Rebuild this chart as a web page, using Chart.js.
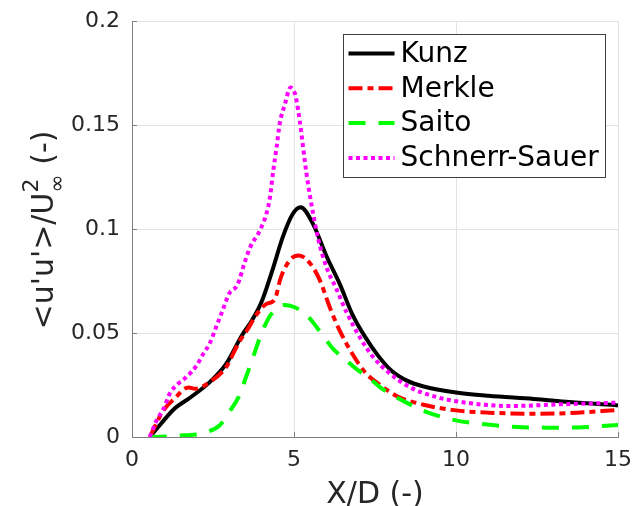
<!DOCTYPE html>
<html>
<head>
<meta charset="utf-8">
<script src="https://cdn.jsdelivr.net/npm/chart.js@4/dist/chart.umd.min.js"></script>
<style>
  html, body { margin: 0; padding: 0; background: #fff; }
  canvas { display: block; }
</style>
</head>
<body>
<canvas id="chart" width="634" height="506"></canvas>
<script>
// values (X/D vs <u'u'>/U^2)
const kunzX = [0.55, 0.9, 1.3, 1.8, 2.4, 2.9, 3.4, 3.7, 4.0, 4.35, 4.65, 4.95, 5.2, 5.6, 6.0, 6.4, 6.8, 7.2, 7.6, 8.0, 8.5, 9.0, 10.0, 11.0, 12.4, 13.5, 15.0];
const kunzY = [0, 0.0065, 0.0135, 0.019, 0.0264, 0.035, 0.049, 0.056, 0.065, 0.081, 0.096, 0.107, 0.1105, 0.102, 0.087, 0.074, 0.059, 0.048, 0.039, 0.032, 0.027, 0.0243, 0.0214, 0.0198, 0.0183, 0.0168, 0.0152];

const merkleX = [0.55, 0.97, 1.38, 1.6, 1.75, 1.95, 2.4, 2.9, 3.3, 3.55, 3.85, 4.15, 4.4, 4.6, 4.9, 5.15, 5.5, 5.8, 6.1, 6.4, 6.8, 7.2, 7.7, 8.2, 9.0, 10.0, 11.0, 12.4, 13.5, 15.0];
const merkleY = [0, 0.0128, 0.0195, 0.023, 0.0238, 0.0232, 0.0264, 0.0335, 0.0455, 0.0513, 0.059, 0.064, 0.066, 0.077, 0.0855, 0.0873, 0.0834, 0.0753, 0.0625, 0.0515, 0.040, 0.031, 0.0245, 0.0195, 0.0155, 0.0128, 0.0117, 0.0112, 0.0115, 0.013];

const saitoX = [0.55, 1.0, 1.6, 2.0, 2.3, 2.7, 3.0, 3.3, 3.5, 3.75, 4.0, 4.25, 4.5, 4.7, 5.0, 5.4, 5.7, 6.0, 6.2, 6.6, 6.9, 7.4, 7.65, 8.15, 8.5, 9.1, 10.0, 10.9, 11.9, 12.9, 13.9, 15.0];
const saitoY = [0, 0.0002, 0.0008, 0.0012, 0.0024, 0.0055, 0.012, 0.0195, 0.028, 0.039, 0.050, 0.058, 0.062, 0.0635, 0.0625, 0.0585, 0.0528, 0.0465, 0.0425, 0.037, 0.033, 0.0273, 0.024, 0.0192, 0.0163, 0.012, 0.008, 0.0061, 0.0048, 0.0045, 0.0047, 0.0058];

const schnerrX = [0.55, 0.76, 0.97, 1.17, 1.38, 1.69, 2.0, 2.2, 2.4, 2.6, 2.8, 3.0, 3.25, 3.5, 3.65, 3.95, 4.15, 4.26, 4.36, 4.46, 4.56, 4.72, 4.89, 5.03, 5.13, 5.23, 5.33, 5.44, 5.59, 5.75, 6.0, 6.3, 6.62, 7.03, 7.44, 7.96, 8.57, 9.4, 10.4, 11.7, 13.2, 15.0];
const schnerrY = [0, 0.008, 0.0135, 0.021, 0.025, 0.029, 0.0345, 0.040, 0.045, 0.053, 0.061, 0.069, 0.073, 0.085, 0.0913, 0.0994, 0.1074, 0.1154, 0.128, 0.139, 0.1507, 0.160, 0.168, 0.165, 0.157, 0.1458, 0.133, 0.121, 0.1074, 0.095, 0.0817, 0.0715, 0.060, 0.048, 0.0385, 0.0305, 0.024, 0.0192, 0.0163, 0.0149, 0.0157, 0.0165];

const seriesNames = ['Kunz', 'Merkle', 'Saito', 'Schnerr-Sauer'];
const xTicks = [0, 5, 10, 15];
const yTicks = [0, 0.05, 0.1, 0.15, 0.2];

const FONT = "'DejaVu Sans', 'Liberation Sans', sans-serif";
const TEXT = '#262626';
const AXIS = '#808080';
const GRID = '#e3e3e3';

function toPoints(xs, ys) {
    return xs.map((x, i) => ({ x: x, y: ys[i] }));
}

const datasets = [
    { label: seriesNames[0], data: toPoints(kunzX, kunzY), borderColor: '#000000', borderWidth: 4, borderDash: [], order: 4 },
    { label: seriesNames[1], data: toPoints(merkleX, merkleY), borderColor: '#ff0000', borderWidth: 4, borderDash: [14, 5, 6, 5], order: 3 },
    { label: seriesNames[2], data: toPoints(saitoX, saitoY), borderColor: '#00ff00', borderWidth: 4, borderDash: [17, 13], order: 2 },
    { label: seriesNames[3], data: toPoints(schnerrX, schnerrY), borderColor: '#ff00ff', borderWidth: 4, borderDash: [4, 3.5], order: 1 }
].map(d => Object.assign(d, {
    pointRadius: 0,
    fill: false,
    cubicInterpolationMode: 'monotone',
    borderCapStyle: 'butt'
}));

// y title needs a stacked super/subscript, so it is drawn by hand
const yTitlePlugin = {
    id: 'yTitle',
    afterDraw(chart) {
        const ctx = chart.ctx;
        const area = chart.chartArea;
        const main = "<u'u'>/U";
        const tail = ' (-)';
        ctx.save();
        ctx.fillStyle = TEXT;
        ctx.textBaseline = 'alphabetic';
        ctx.textAlign = 'left';
        ctx.font = `30px ${FONT}`;
        const w1 = ctx.measureText(main).width;
        const w4 = ctx.measureText(tail).width;
        ctx.font = `22px ${FONT}`;
        const w2 = Math.max(ctx.measureText('2').width, ctx.measureText('∞').width);
        const total = w1 + w2 + w4;
        ctx.translate(53, (area.top + area.bottom) / 2 + 1);
        ctx.rotate(-Math.PI / 2);
        let x = -total / 2;
        ctx.font = `30px ${FONT}`;
        ctx.fillText(main, x, 0);
        x += w1;
        ctx.font = `22px ${FONT}`;
        ctx.fillText('2', x, -15);
        ctx.fillText('∞', x, 11);
        x += w2;
        ctx.font = `30px ${FONT}`;
        ctx.fillText(tail, x, 0);
        ctx.restore();
    }
};

// MATLAB style inward ticks
const tickPlugin = {
    id: 'inTicks',
    afterDatasetsDraw(chart) {
        const ctx = chart.ctx;
        const area = chart.chartArea;
        const xs = chart.scales.x, ys = chart.scales.y;
        ctx.save();
        ctx.strokeStyle = AXIS;
        ctx.lineWidth = 1;
        ctx.beginPath();
        xTicks.forEach(t => {
            const px = Math.round(xs.getPixelForValue(t)) + 0.5;
            ctx.moveTo(px, area.bottom);
            ctx.lineTo(px, area.bottom - 5);
        });
        yTicks.forEach(t => {
            const py = Math.round(ys.getPixelForValue(t)) + 0.5;
            ctx.moveTo(area.left, py);
            ctx.lineTo(area.left + 5, py);
        });
        ctx.stroke();
        ctx.restore();
    }
};

// boxed legend inside the axes, top right
const legendPlugin = {
    id: 'boxLegend',
    afterDraw(chart) {
        const ctx = chart.ctx;
        const area = chart.chartArea;
        const w = 262, h = 143;
        const left = Math.round(area.right - 13.5 - w) + 0.5;
        const top = Math.round(area.top + 12.5) + 0.5;
        ctx.save();
        ctx.fillStyle = '#ffffff';
        ctx.fillRect(left, top, w, h);
        ctx.strokeStyle = '#404040';
        ctx.lineWidth = 1;
        ctx.strokeRect(left, top, w, h);
        ctx.font = `28px ${FONT}`;
        ctx.textBaseline = 'middle';
        ctx.textAlign = 'left';
        chart.data.datasets.forEach((ds, i) => {
            const y = top + 19 + i * 34.8;
            ctx.beginPath();
            ctx.setLineDash(ds.borderDash);
            ctx.lineCap = 'butt';
            ctx.strokeStyle = ds.borderColor;
            ctx.lineWidth = ds.borderWidth;
            ctx.moveTo(left + 5, y);
            ctx.lineTo(left + 51, y);
            ctx.stroke();
            ctx.setLineDash([]);
            ctx.fillStyle = '#000000';
            ctx.fillText(ds.label, left + 57, y + 1);
        });
        ctx.restore();
    }
};

new Chart(document.getElementById('chart'), {
    type: 'line',
    data: { datasets: datasets },
    options: {
        responsive: false,
        animation: false,
        events: [],
        layout: { padding: { top: 21, right: 16, left: 0, bottom: 0 } },
        plugins: {
            legend: { display: false },
            tooltip: { enabled: false }
        },
        scales: {
            x: {
                type: 'linear',
                min: 0,
                max: 15,
                afterBuildTicks: (s) => { s.ticks = xTicks.map(v => ({ value: v })); },
                afterFit: (s) => {
                    s.height = 69;
                    s.paddingLeft = 0;
                    s.paddingRight = 0;
                },
                ticks: { color: TEXT, padding: 10, font: { family: FONT, size: 22 } },
                grid: { color: GRID, drawTicks: false },
                border: { color: AXIS, width: 1 },
                title: {
                    display: true,
                    text: 'X/D (-)',
                    color: TEXT,
                    font: { family: FONT, size: 30 },
                    padding: { top: 0, bottom: -7 }
                }
            },
            y: {
                type: 'linear',
                min: 0,
                max: 0.2,
                afterBuildTicks: (s) => { s.ticks = yTicks.map(v => ({ value: v })); },
                afterFit: (s) => {
                    s.width = 132;
                    s.paddingTop = 0;
                    s.paddingBottom = 0;
                },
                ticks: {
                    color: TEXT,
                    padding: 12,
                    font: { family: FONT, size: 22 },
                    callback: (v) => String(Number(v.toFixed(2)))
                },
                grid: { color: GRID, drawTicks: false },
                border: { color: AXIS, width: 1 }
            }
        }
    },
    plugins: [tickPlugin, legendPlugin, yTitlePlugin]
});
</script>
</body>
</html>
